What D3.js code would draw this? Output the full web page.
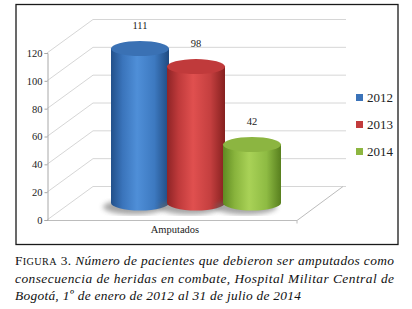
<!DOCTYPE html>
<html>
<head>
<meta charset="utf-8">
<script src="https://cdn.jsdelivr.net/npm/d3@7"></script>
<style>
  body { margin: 0; background: #fff; }
</style>
</head>
<body>
<script>
// chart data
var category = "Amputados";
var years = ["2012", "2013", "2014"];
var values = [111, 98, 42];
var yTicks = [0, 20, 40, 60, 80, 100, 120];
var colors = ["#3b73b9", "#c23b3c", "#8db640"];

var w = 412, h = 309;

// 3d depth offset of the back wall (px)
var dx = 46, dy = -34;

var svg = d3.select("body").append("svg")
    .attr("width", w)
    .attr("height", h)
    .style("display", "block");

var y = d3.scaleLinear().domain([0, 120]).range([220, 53]);
var x = d3.scaleBand().domain(years).range([89, 257]);
var front = [47, 297]; // floor front edge

// gradients for the cylinders
var defs = svg.append("defs");
var shades = [
    ["#22508a", "#3a74bb", "#4f8fd8", "#3d79c0", "#1f4a80"],
    ["#8e2426", "#bf3a3b", "#e0504f", "#c43f3f", "#85201f"],
    ["#5f8a22", "#88b33c", "#a9d257", "#8ebb43", "#587f1e"]
];
var topCols = ["#3a71b4", "#c03a3b", "#8cb541"];
shades.forEach(function(s, i){
    var g = defs.append("linearGradient").attr("id", "body" + i)
        .attr("x1", 0).attr("x2", 1).attr("y1", 0).attr("y2", 0);
    [0, 0.2, 0.45, 0.75, 1].forEach(function(o, k){
        g.append("stop").attr("offset", o).attr("stop-color", s[k]);
    });
});
defs.append("filter").attr("id", "blur")
    .append("feGaussianBlur").attr("stdDeviation", 2.5);

// chart border
svg.append("rect")
    .attr("x", 16).attr("y", 4.5)
    .attr("width", 382).attr("height", 240)
    .attr("fill", "none").attr("stroke", "#1a1a1a").attr("stroke-width", 1.3);

// grid: back wall lines + side wall diagonals
var grid = svg.append("g").attr("stroke", "#d6d6d6").attr("stroke-width", 1).attr("fill", "none");
grid.selectAll(".back").data(yTicks).enter().append("line")
    .attr("x1", front[0] + dx).attr("x2", front[1] + dx + 3)
    .attr("y1", function(d){ return y(d) + dy + 0.5; })
    .attr("y2", function(d){ return y(d) + dy + 0.5; });
grid.selectAll(".side").data(yTicks).enter().append("line")
    .attr("x1", front[0]).attr("x2", front[0] + dx)
    .attr("y1", function(d){ return y(d); })
    .attr("y2", function(d){ return y(d) + dy + 0.5; });

// floor
svg.append("path")
    .attr("d", "M" + front[0] + "," + (y(0) + 0.5) + "H" + front[1] +
        "L" + (front[1] + dx) + "," + (y(0) + dy + 0.5) +
        "M" + front[1] + "," + (y(0) + 0.5) + "v3")
    .attr("fill", "none").attr("stroke", "#bcbcbc");

// y axis
var yAxis = d3.axisLeft(y).tickValues(yTicks).tickSize(3).tickPadding(2);
var ax = svg.append("g")
    .attr("transform", "translate(" + (front[0] + 0.5) + ",0)")
    .call(yAxis);
ax.select(".domain").attr("stroke", "#a8a8a8");
ax.selectAll(".tick line").attr("stroke", "#a8a8a8");
ax.selectAll("text")
    .attr("font-size", "10.5px")
    .attr("fill", "#222");

// category label
svg.append("text")
    .attr("x", (front[0] + front[1]) / 2 + 3)
    .attr("y", 233)
    .attr("text-anchor", "middle")
    .attr("font-size", "10.5px")
    .attr("fill", "#222")
    .text(category);

// cylinders (half depth)
var rx = x.bandwidth() / 2 + 1, ry = 7.5;
var cx = function(i){ return x(years[i]) + x.bandwidth() / 2 + dx / 2; };
var base = y(0) + dy / 2;
var topY = function(v){ return y(v) + dy / 2; };

var bars = svg.selectAll(".cyl").data(values).enter().append("g");

bars.append("ellipse")
    .attr("cx", function(d, i){ return cx(i) - 6; })
    .attr("cy", base + 4)
    .attr("rx", rx + 2).attr("ry", ry)
    .attr("fill", "#6a6a6a").attr("opacity", 0.6)
    .attr("filter", "url(#blur)");

bars.append("path")
    .attr("d", function(d, i){
        var c = cx(i), t = topY(d);
        return "M" + (c - rx) + "," + t + "V" + base +
            "A" + rx + "," + ry + " 0 0 0 " + (c + rx) + "," + base +
            "V" + t + "Z";
    })
    .attr("fill", function(d, i){ return "url(#body" + i + ")"; });

bars.append("ellipse")
    .attr("cx", function(d, i){ return cx(i); })
    .attr("cy", function(d){ return topY(d); })
    .attr("rx", rx).attr("ry", ry)
    .attr("fill", function(d, i){ return topCols[i]; });

// value labels
bars.append("text")
    .attr("x", function(d, i){ return cx(i); })
    .attr("y", function(d){ return topY(d) - 20; })
    .attr("text-anchor", "middle")
    .attr("font-size", "10.5px")
    .attr("fill", "#222")
    .text(function(d){ return d; });

// legend
var leg = svg.selectAll(".leg").data(years).enter().append("g")
    .attr("transform", function(d, i){ return "translate(356," + (94 + i * 27) + ")"; });
leg.append("rect").attr("width", 7).attr("height", 7)
    .attr("fill", function(d, i){ return colors[i]; });
leg.append("text")
    .attr("x", 11).attr("y", 8)
    .attr("font-size", "13px")
    .attr("fill", "#222")
    .text(function(d){ return d; });

// caption
var cap = svg.append("g").attr("font-size", "13.4px").attr("fill", "#111");
var l1 = cap.append("text").attr("x", 15).attr("y", 265)
    .attr("textLength", 379).attr("lengthAdjust", "spacing");
l1.append("tspan").text("F");
l1.append("tspan").attr("font-size", "10.2px").text("IGURA");
l1.append("tspan").text(" 3. ");
l1.append("tspan").attr("font-style", "italic")
    .text("Número de pacientes que debieron ser amputados como");
cap.append("text").attr("x", 15).attr("y", 282.5)
    .attr("textLength", 379).attr("lengthAdjust", "spacing")
    .attr("font-style", "italic")
    .text("consecuencia de heridas en combate, Hospital Militar Central de");
cap.append("text").attr("x", 15).attr("y", 300)
    .attr("textLength", 286).attr("lengthAdjust", "spacing")
    .attr("font-style", "italic")
    .text("Bogotá, 1º de enero de 2012 al 31 de julio de 2014");

// all text in Times-like serif
svg.selectAll("text").style("font-family", "'Liberation Serif'");
</script>
</body>
</html>
